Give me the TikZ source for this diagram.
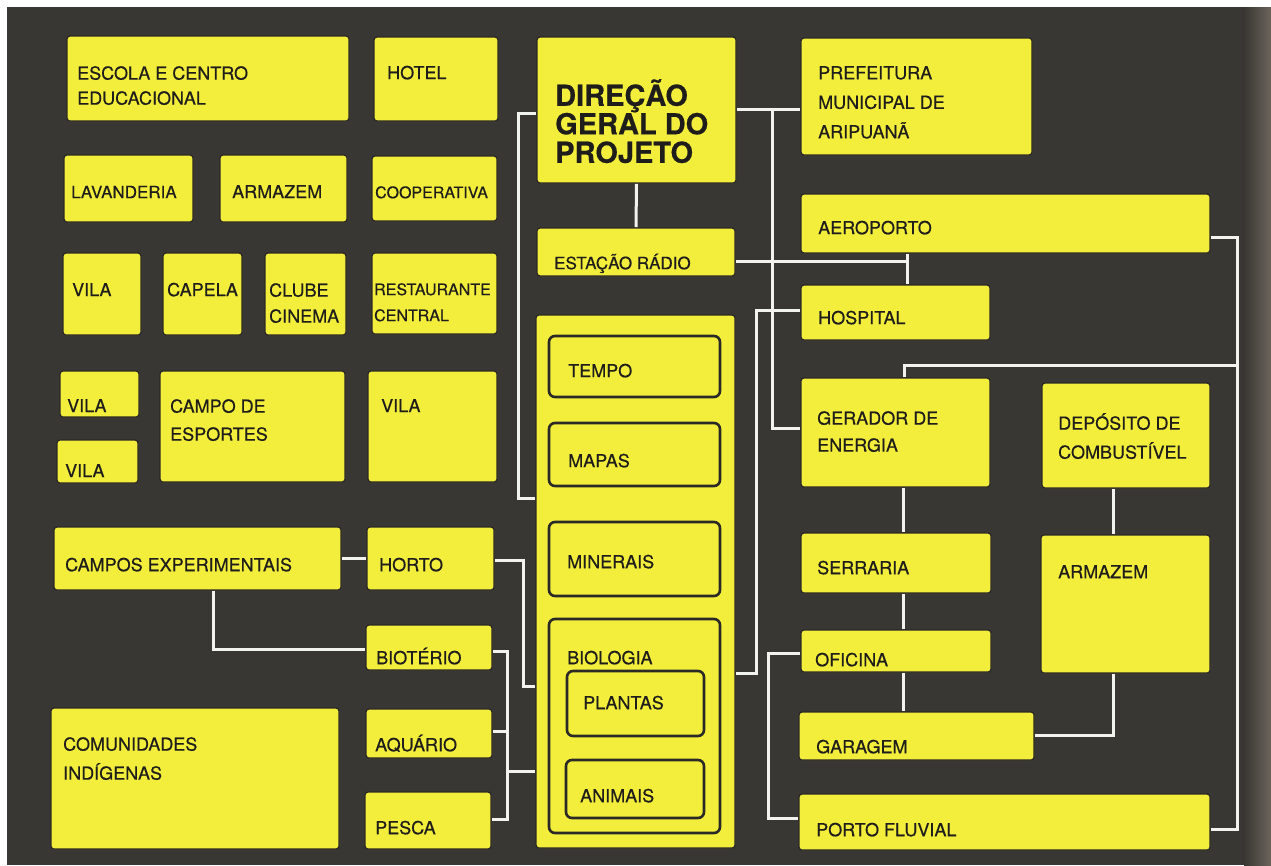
\documentclass[tikz,border=0pt]{standalone}
\usepackage{fontspec}
\setmainfont{TeX Gyre Heros}[FakeBold=0.45]
\usetikzlibrary{fit}
\pgfdeclarelayer{bottom}
\pgfdeclarelayer{links}
\pgfsetlayers{bottom,links,main}
\definecolor{bg}{HTML}{393733}
\definecolor{bgedge}{HTML}{6A645B}
\definecolor{yel}{HTML}{F3EE3C}
\definecolor{boxedge}{HTML}{2A2926}
\definecolor{wirecol}{HTML}{F2F2EE}
\definecolor{ink}{HTML}{1E1D1B}
\newcommand\lf[2]{\fontsize{#1}{#2}\selectfont}
\newcommand\mkbox[6][box]{\node[#1, fit={(#3,#4) (#5,#6)}] (#2) {};}
\tikzset{
  box/.style={draw=boxedge, line width=1.2pt, fill=yel, rounded corners=3pt, inner sep=0pt},
  inbox/.style={draw=boxedge, line width=2.6pt, fill=yel, rounded corners=6pt, inner sep=0pt},
  lbl/.style={anchor=north west, inner sep=0pt, align=left, text=ink, font=\lf{18}{26}, execute at begin node={\rule{0pt}{18pt}}},
  biglbl/.style={anchor=north west, inner sep=0pt, align=left, text=ink, font=\lf{29}{28.5}\bfseries, execute at begin node={\rule{0pt}{30pt}}},
  link/.style={draw=wirecol, line width=3pt},
}
\begin{document}
\begin{tikzpicture}[x=1pt,y=-1pt]
\useasboundingbox (0,0) rectangle (1271,865);
\begin{pgfonlayer}{bottom}
\fill[white] (0,0) rectangle (1271,865);
\fill[bg] (7,7) rectangle (1271,865);
\shade[left color=bg, right color=bgedge] (1244,7) rectangle (1271,865);
\end{pgfonlayer}

% ---------- boxes ----------
\mkbox{escola}{67}{36}{349}{121}
\mkbox{hotel}{374}{37}{498}{121}
\mkbox{lav}{64}{155}{193}{222}
\mkbox{arm1}{220}{155}{347}{222}
\mkbox{coop}{372}{156}{497}{221}
\mkbox{vila1}{63}{253}{141}{335}
\mkbox{capela}{163}{253}{242}{335}
\mkbox{clube}{265}{253}{346}{335}
\mkbox{rest}{372}{253}{497}{334}
\mkbox{vila2}{60}{371}{139}{417}
\mkbox{vila3}{57}{440}{138}{483}
\mkbox{campo}{160}{371}{345}{482}
\mkbox{vila4}{368}{371}{497}{482}
\mkbox{camposx}{54}{527}{341}{590}
\mkbox{horto}{367}{527}{494}{590}
\mkbox{bio}{366}{625}{492}{670}
\mkbox{comun}{51}{708}{339}{849}
\mkbox{aqua}{366}{709}{492}{758}
\mkbox{pesca}{365}{792}{491}{849}
\mkbox{dir}{537}{37}{736}{183}
\mkbox{est}{537}{228}{735}{276}
\mkbox{central}{536}{315}{735}{848}
\mkbox[inbox]{tempo}{549}{336}{720}{397}
\mkbox[inbox]{mapas}{549}{423}{720}{486}
\mkbox[inbox]{miner}{549}{522}{720}{596}
\mkbox[inbox]{biol}{549}{619}{720}{833}
\mkbox[inbox]{plant}{567}{671}{704}{736}
\mkbox[inbox]{anim}{566}{760}{704}{818}
\mkbox{pref}{801}{38}{1032}{155}
\mkbox{aero}{801}{194}{1210}{253}
\mkbox{hosp}{801}{285}{990}{340}
\mkbox{ger}{801}{378}{990}{487}
\mkbox{dep}{1042}{383}{1210}{488}
\mkbox{serr}{801}{533}{991}{593}
\mkbox{arm2}{1041}{535}{1210}{673}
\mkbox{ofic}{801}{630}{991}{672}
\mkbox{gar}{799}{712}{1034}{760}
\mkbox{porto}{799}{794}{1210}{850}

% ---------- junction points ----------
\coordinate (jdir) at (772,109);
\coordinate (jrad) at (907,261);
\coordinate (jger) at (1237,365);
\coordinate (jbio) at (507,731);
\coordinate (jbio2) at (507,771);

% ---------- connectors ----------
\begin{pgfonlayer}{links}
\draw[link] (camposx.east |- 0,558) -- (horto.west |- 0,558);
\draw[link] (camposx.south -| 213,0) |- (bio.west |- 0,649);
\draw[link] (horto.east |- 0,560) -- ++(29,0) |- (central.west |- 0,686);
\draw[link] (bio.east |- 0,651) -- ++(15,0) |- (pesca.east |- 0,819);
\draw[link] (aqua.east |- 0,731) -- (jbio);
\draw[link] (jbio2) -- (central.west |- 0,771);
\draw[link] (dir.west |- 0,113) -- ++(-18,0) |- (central.west |- 0,498);
\draw[link] (dir.east |- 0,109) -- (pref.west |- 0,109);
\draw[link] (jdir) |- (ger.west |- 0,428);
\draw[link] (dir.south) -- (est.north);
\draw[link] (aero.south -| 907,0) -- (hosp.north -| 907,0);
\draw[link] (est.east |- 0,261) -- (jrad);
\draw[link] (hosp.west |- 0,310) -- ++(-44,0) |- (central.east |- 0,673);
\draw[link] (aero.east |- 0,237) -- ++(27,0) |- (porto.east |- 0,829);
\draw[link] (jger) -| (ger.north -| 904,0);
\draw[link] (ger.south -| 903,0) -- (serr.north -| 903,0);
\draw[link] (serr.south -| 903,0) -- (ofic.north -| 903,0);
\draw[link] (ofic.south -| 903,0) -- (gar.north -| 903,0);
\draw[link] (dep.south -| 1113,0) -- (arm2.north -| 1113,0);
\draw[link] (arm2.south -| 1113,0) |- (gar.east |- 0,735);
\draw[link] (ofic.west |- 0,653) -- ++(-32,0) |- (porto.west |- 0,818);
\end{pgfonlayer}

% ---------- texts ----------
\node[lbl, font=\lf{18}{25}] (t-escola) at (77,66) {ESCOLA E CENTRO\\EDUCACIONAL};
\node[lbl] (t-hotel) at (387,61) {HOTEL};
\node[lbl, font=\lf{17}{26}] (t-lav) at (71,180) {LAVANDERIA};
\node[lbl] (t-arm1) at (232,180) {ARMAZEM};
\node[lbl, font=\lf{16}{26}] (t-coop) at (375,180) {COOPERATIVA};
\node[lbl] (t-vila1) at (72,278) {VILA};
\node[lbl] (t-capela) at (167,278) {CAPELA};
\node[lbl] (t-clube) at (269,283) {CLUBE\\CINEMA};
\node[lbl, font=\lf{16}{26}] (t-rest) at (374,283) {RESTAURANTE\\CENTRAL};
\node[lbl] (t-vila2) at (67,394) {VILA};
\node[lbl] (t-vila3) at (65,459) {VILA};
\node[lbl, font=\lf{18}{28}] (t-campo) at (170,399) {CAMPO DE\\ESPORTES};
\node[lbl] (t-vila4) at (381,394) {VILA};
\node[lbl] (t-camposx) at (65,553) {CAMPOS EXPERIMENTAIS};
\node[lbl] (t-horto) at (379,553) {HORTO};
\node[lbl] (t-bio) at (376,646) {BIOTÉRIO};
\node[lbl, font=\lf{18}{29}] (t-comun) at (63,737) {COMUNIDADES\\INDÍGENAS};
\node[lbl] (t-aqua) at (375,733) {AQUÁRIO};
\node[lbl] (t-pesca) at (375,816) {PESCA};

\node[biglbl] (t-dir) at (555,79) {DIREÇÃO\\GERAL DO\\PROJETO};
\node[lbl, font=\lf{17}{26}] (t-est) at (554,251) {ESTAÇÃO RÁDIO};
\node[lbl] (t-tempo) at (568,359) {TEMPO};
\node[lbl] (t-mapas) at (568,449) {MAPAS};
\node[lbl] (t-miner) at (567,550) {MINERAIS};
\node[lbl] (t-biol) at (567,646) {BIOLOGIA};
\node[lbl] (t-plant) at (583,691) {PLANTAS};
\node[lbl] (t-anim) at (580,784) {ANIMAIS};

\node[lbl, font=\lf{18}{29.5}] (t-pref) at (818,66) {PREFEITURA\\MUNICIPAL DE\\ARIPUANÃ};
\node[lbl] (t-aero) at (818,216) {AEROPORTO};
\node[lbl] (t-hosp) at (818,306) {HOSPITAL};
\node[lbl, font=\lf{18}{27}] (t-ger) at (817,411) {GERADOR DE\\ENERGIA};
\node[lbl, font=\lf{18}{29}] (t-dep) at (1058,413) {DEPÓSITO DE\\COMBUSTÍVEL};
\node[lbl] (t-serr) at (817,556) {SERRARIA};
\node[lbl] (t-arm2) at (1058,560) {ARMAZEM};
\node[lbl] (t-ofic) at (815,648) {OFICINA};
\node[lbl] (t-gar) at (816,735) {GARAGEM};
\node[lbl] (t-porto) at (816,818) {PORTO FLUVIAL};
\end{tikzpicture}
\end{document}
